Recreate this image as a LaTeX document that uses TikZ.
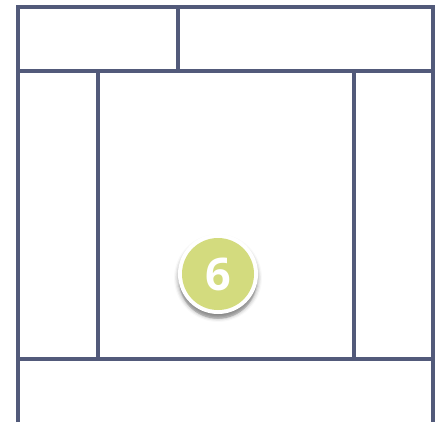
\documentclass[tikz,border=0pt]{standalone}
\usepackage{fontspec}
\setmainfont{Open Sans}
\usetikzlibrary{shadows.blur}
\definecolor{frame}{HTML}{525A7A}
\definecolor{badge}{HTML}{D3DB7E}
\tikzset{wall/.style={draw=frame,line width=4pt}}
\begin{document}
\begin{tikzpicture}[x=1pt,y=-1pt]
\useasboundingbox (0,0) rectangle (435,422);
% frame
\coordinate (tl) at (18,7);
\coordinate (tr) at (433,7);
\coordinate (bl) at (18,422);
\coordinate (br) at (433,422);
\draw[wall] (bl) -- (tl) -- (tr) -- (br);
\coordinate (h1l) at (18,71);
\coordinate (h1r) at (433,71);
\draw[wall] (h1l) -- (h1r);
\coordinate (d1t) at (178,7);
\coordinate (d1b) at (178,71);
\draw[wall] (d1t) -- (d1b);
\coordinate (h2l) at (18,359);
\coordinate (h2r) at (433,359);
\draw[wall] (h2l) -- (h2r);
\coordinate (v1t) at (98,71);
\coordinate (v1b) at (98,359);
\draw[wall] (v1t) -- (v1b);
\coordinate (v2t) at (354,71);
\coordinate (v2b) at (354,359);
\draw[wall] (v2t) -- (v2b);
% badge
\fill[black!30,opacity=0.45] (218,280) circle (39);
\fill[white,blur shadow={shadow xshift=0pt,shadow yshift=-4pt,shadow blur radius=4pt,shadow opacity=40}] (218,274) circle (40);
\node[circle,fill=badge,minimum size=72pt,inner sep=0pt] (badge) at (218,274) {};
\node[text=white,font=\bfseries\fontsize{45}{45}\selectfont] (six) at (218,274) {6};
\end{tikzpicture}
\end{document}
